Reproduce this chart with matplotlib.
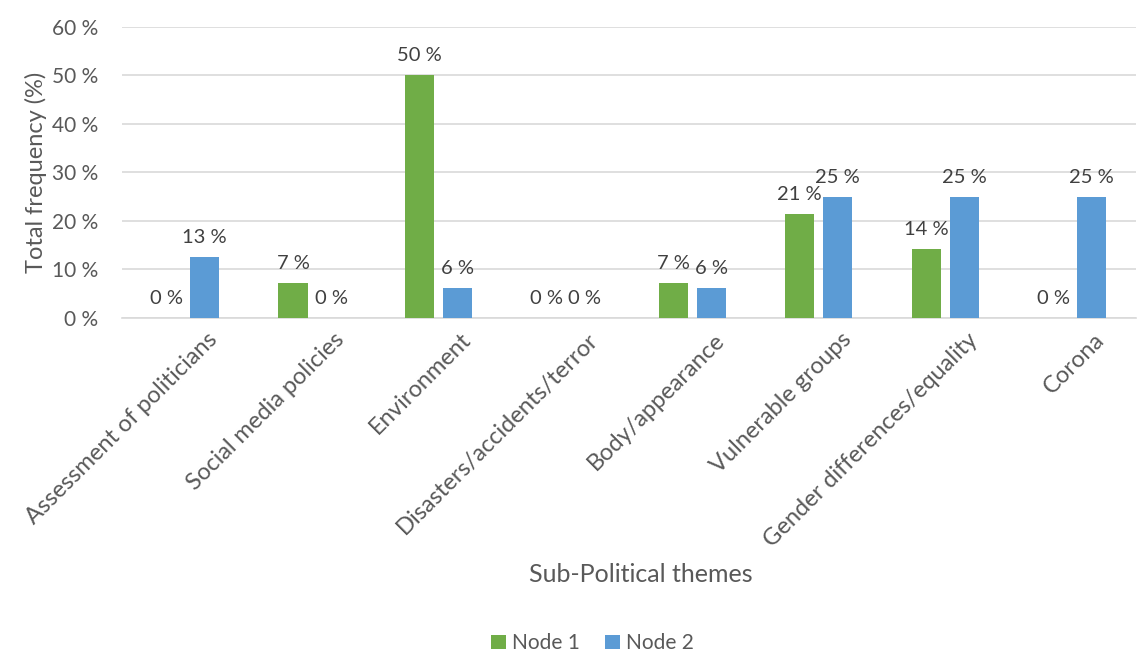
import numpy as np
import matplotlib
matplotlib.use("Agg")
import matplotlib.pyplot as plt

plt.rcParams['font.family'] = ['Lato', 'DejaVu Sans']

# data
categories = ["Assessment of politicians", "Social media policies", "Environment",
              "Disasters/accidents/terror", "Body/appearance", "Vulnerable groups",
              "Gender differences/equality", "Corona"]
node1 = [0, 7.14, 50, 0, 7.14, 21.43, 14.29, 0]
node2 = [12.5, 0, 6.25, 0, 6.25, 25, 25, 25]
series_names = ["Node 1", "Node 2"]
colors = ["#70AD47", "#5B9BD5"]

text_col = "#595959"

fig = plt.figure(figsize=(11.44, 6.53), dpi=100)
ax = fig.add_axes([0.1066, 0.513, 0.886, 0.446])

x = np.arange(len(categories))
w = 0.23
off = 0.15

for vals, sign, name, c in [(node1, -1, series_names[0], colors[0]),
                            (node2, 1, series_names[1], colors[1])]:
    bars = ax.bar(x + sign * off, vals, width=w, color=c, label=name, zorder=3)
    for b, v in zip(bars, vals):
        ax.annotate(f"{int(v + 0.5)} %", (b.get_x() + b.get_width() / 2, v),
                    xytext=(0, 14), textcoords="offset points",
                    ha="center", va="center", fontsize=14.5, color="#404040")

ax.set_xlim(-0.5, len(categories) - 0.5)
ax.set_ylim(0, 60)
ax.set_yticks(range(0, 61, 10))
ax.set_yticklabels([f"{t} %" for t in range(0, 61, 10)], fontsize=15, color=text_col)
ax.yaxis.grid(True, color="#d9d9d9", linewidth=1.2, zorder=0)
ax.set_axisbelow(True)
for s in ["top", "right", "left"]:
    ax.spines[s].set_visible(False)
ax.spines["bottom"].set_color("#d9d9d9")
ax.spines["bottom"].set_linewidth(1.2)
ax.tick_params(axis="both", length=0)
ax.tick_params(axis="y", pad=17)

ax.set_xticks(x + 0.17)
ax.set_xticklabels(categories, rotation=45, ha="right", rotation_mode="anchor",
                   fontsize=17, color=text_col)
ax.tick_params(axis="x", pad=8)

ax.set_ylabel("Total frequency (%)", fontsize=17, color=text_col, labelpad=4)
fig.text(0.56, 0.12, "Sub-Political themes", ha="center", va="center",
         fontsize=18, color=text_col)

fig.legend(loc="center", bbox_to_anchor=(0.518, 0.015), ncol=2, frameon=False,
           fontsize=15, handlelength=0.7, handleheight=0.7, handletextpad=0.3,
           columnspacing=1.2, labelcolor=text_col)

fig.savefig("out.png", dpi=100)
